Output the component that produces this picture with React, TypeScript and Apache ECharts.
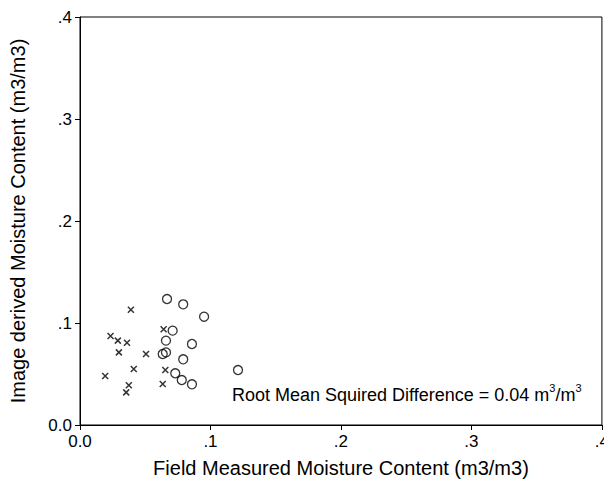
import React, { useEffect, useRef } from "react";
import * as echarts from "echarts";

const crossX = [0.039, 0.0234, 0.029, 0.036, 0.0298, 0.0506, 0.0412, 0.0193, 0.0374, 0.0354, 0.0641, 0.0654, 0.0634];
const crossY = [0.113, 0.0873, 0.0827, 0.0807, 0.0712, 0.0696, 0.0549, 0.048, 0.0389, 0.032, 0.0938, 0.0539, 0.0402];
const circleX = [0.0667, 0.0791, 0.0951, 0.071, 0.0659, 0.0858, 0.0634, 0.0659, 0.0791, 0.073, 0.078, 0.0858, 0.1211];
const circleY = [0.1235, 0.1183, 0.1062, 0.0925, 0.0827, 0.0794, 0.0696, 0.0712, 0.0644, 0.0507, 0.0441, 0.0399, 0.0539];
const tickLabels: Record<string, string> = { "0": "0.0", "0.1": ".1", "0.2": ".2", "0.3": ".3", "0.4": ".4" };
const xTitle = "Field Measured Moisture Content (m3/m3)";
const yTitle = "Image derived Moisture Content (m3/m3)";

const FONT = "Liberation Sans, Arial, sans-serif";

export default function App() {
  const ref = useRef<HTMLDivElement>(null);
  useEffect(() => {
    if (!ref.current) return;
    const chart = echarts.init(ref.current, undefined, { renderer: "svg" });
    const fmt = (v: number) => tickLabels[String(Math.round(v * 10) / 10)] ?? String(v);
    const axisCommon = {
      min: 0,
      max: 0.4,
      interval: 0.1,
      splitLine: { show: false },
      axisLine: { show: true, onZero: false, lineStyle: { color: "#000", width: 1 } },
      axisTick: { show: true, inside: false, length: 5, lineStyle: { color: "#000" } },
      axisLabel: { color: "#000", fontSize: 17, fontFamily: FONT, formatter: fmt, margin: 8 },
      nameLocation: "middle" as const,
      nameTextStyle: { color: "#000", fontSize: 20, fontFamily: FONT },
    };
    chart.setOption({
      animation: false,
      backgroundColor: "#fff",
      grid: { left: 77, right: 10, top: 17, bottom: 63, show: true, borderColor: "#000", borderWidth: 1 },
      xAxis: { type: "value", ...axisCommon, name: xTitle, nameGap: 33 },
      yAxis: { type: "value", ...axisCommon, name: yTitle, nameGap: 52 },
      series: [
        {
          type: "scatter",
          data: crossX.map((x, i) => [x, crossY[i]]),
          symbol: "path://M0,0L10,10M10,0L0,10",
          symbolSize: 6,
          itemStyle: { color: "transparent", borderColor: "#000", borderWidth: 1.5 },
        },
        {
          type: "scatter",
          data: circleX.map((x, i) => [x, circleY[i]]),
          symbol: "circle",
          symbolSize: 9,
          itemStyle: { color: "transparent", borderColor: "#000", borderWidth: 1.3 },
        },
      ],
      graphic: [
        {
          type: "text",
          left: 232,
          top: 382,
          style: {
            text: "{a|Root Mean Squired Difference = 0.04 m}{s|3}{a|/m}{s|3}",
            rich: {
              a: { fontSize: 18, fontFamily: FONT, fill: "#000", verticalAlign: "bottom", lineHeight: 22 },
              s: { fontSize: 11, fontFamily: FONT, fill: "#000", verticalAlign: "top", lineHeight: 22, padding: [0, 0, 8, 0] },
            },
          },
        },
      ],
    });
    return () => chart.dispose();
  }, []);
  return <div ref={ref} style={{ width: 612, height: 488, margin: -8 }} />;
}
